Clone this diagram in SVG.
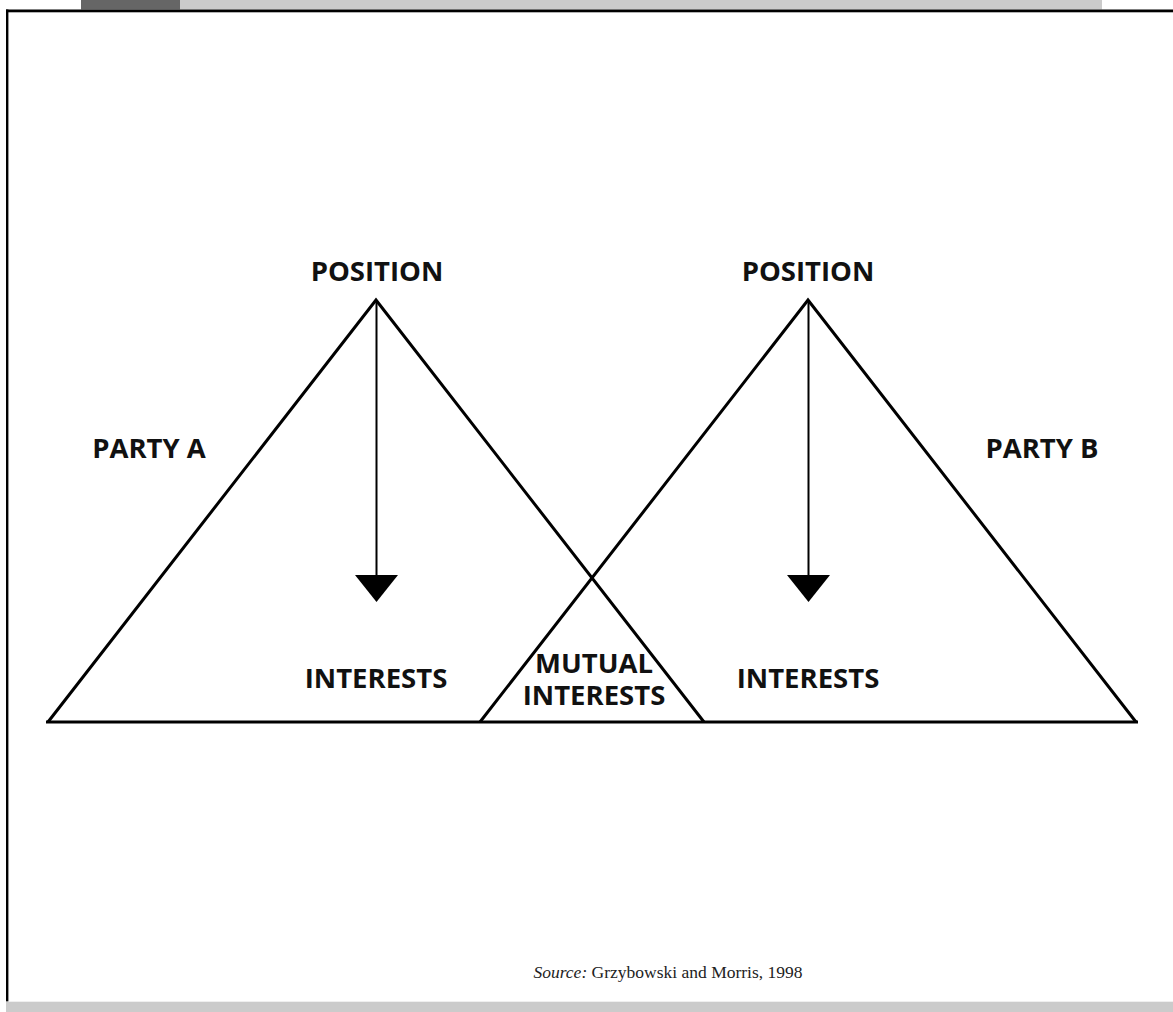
<svg xmlns="http://www.w3.org/2000/svg" width="1173" height="1012" viewBox="0 0 1173 1012">
  <style>
    .lbl { font-family: "Open Sans", "DejaVu Sans", sans-serif; font-weight: 700; font-size: 27.5px; fill: #111; text-anchor: middle; }
    .edge { fill: none; stroke: #000; stroke-width: 3; stroke-linejoin: miter; }
    .src { font-family: "Liberation Serif", "DejaVu Serif", serif; font-size: 17.5px; fill: #222; }
  </style>
  <defs>
    <!-- solid downward arrowhead, base sits on the line end -->
    <marker id="head" viewBox="0 0 27 43" refX="0" refY="21.5" markerWidth="27" markerHeight="43" markerUnits="userSpaceOnUse" orient="auto">
      <path d="M0,0 L27,21.5 L0,43 Z" fill="#000"/>
    </marker>
  </defs>

  <!-- page frame -->
  <rect width="1173" height="1012" fill="#fff"/>
  <g id="frame">
    <rect x="81" y="0" width="99" height="9.5" fill="#666"/>
    <rect x="180" y="0" width="922" height="9.5" fill="#cbcbcb"/>
    <rect x="6" y="9.5" width="1167" height="2.8" fill="#000"/>
    <rect x="6" y="9.5" width="2.4" height="992" fill="#000"/>
    <rect x="6" y="1001.7" width="1167" height="10.3" fill="#cbcbcb"/>
  </g>

  <!-- party triangles -->
  <g id="party-a">
    <polyline class="edge" points="48,722 376,300 704,722"/>
    <text class="lbl" x="149" y="458">PARTY A</text>
  </g>
  <g id="party-b">
    <polyline class="edge" points="480,722 808,300 1136,722"/>
    <text class="lbl" x="1042" y="458">PARTY B</text>
  </g>
  <g id="base">
    <line class="edge" x1="46" y1="722" x2="1138" y2="722"/>
  </g>

  <g id="position-a">
    <text class="lbl" x="377" y="281">POSITION</text>
  </g>
  <g id="position-b">
    <text class="lbl" x="808" y="281">POSITION</text>
  </g>
  <g id="interests-a">
    <text class="lbl" x="376" y="688">INTERESTS</text>
  </g>
  <g id="interests-b">
    <text class="lbl" x="808" y="688">INTERESTS</text>
  </g>
  <g id="mutual">
    <text class="lbl" x="594" y="673">MUTUAL</text>
    <text class="lbl" x="594" y="705">INTERESTS</text>
  </g>

  <!-- position-to-interests arrows -->
  <g id="connectors">
    <line x1="376.5" y1="300" x2="376.5" y2="575" stroke="#000" stroke-width="2" marker-end="url(#head)"/>
    <line x1="808.5" y1="300" x2="808.5" y2="575" stroke="#000" stroke-width="2" marker-end="url(#head)"/>
  </g>

  <g id="source">
    <text class="src" x="668" y="978" text-anchor="middle"><tspan font-style="italic">Source:</tspan> Grzybowski and Morris, 1998</text>
  </g>
</svg>
